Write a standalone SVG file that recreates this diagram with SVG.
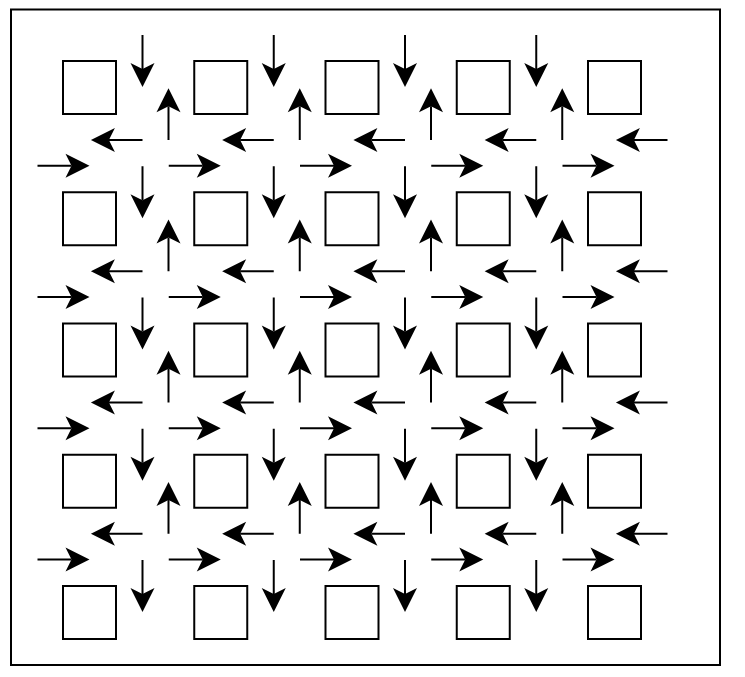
<svg xmlns="http://www.w3.org/2000/svg" width="745" height="677" viewBox="0 0 745 677">
<defs>
<style>
.frame{fill:#fff;stroke:#000;stroke-width:2}
.sq{fill:#fff;stroke:#000;stroke-width:2}
.ar{fill:none;stroke:#000;stroke-width:2;marker-end:url(#head)}
</style>
<marker id="head" markerUnits="userSpaceOnUse" viewBox="-6 -12 24 24" refX="0" refY="0" markerWidth="24" markerHeight="24" orient="auto" overflow="visible">
<path d="M18,0 L-6,-12 L0,0 L-6,12 Z" fill="#000" stroke="none"/>
</marker>
</defs>
<rect width="745" height="677" fill="#fff"/>
<rect id="frame" class="frame" x="11" y="9.5" width="709" height="655.5"/>
<g id="nodes">
<g id="n0-0"><rect class="sq" x="63" y="61" width="53" height="53"/></g>
<g id="n0-1"><rect class="sq" x="194.25" y="61" width="53" height="53"/></g>
<g id="n0-2"><rect class="sq" x="325.5" y="61" width="53" height="53"/></g>
<g id="n0-3"><rect class="sq" x="456.75" y="61" width="53" height="53"/></g>
<g id="n0-4"><rect class="sq" x="588" y="61" width="53" height="53"/></g>
<g id="n1-0"><rect class="sq" x="63" y="192.25" width="53" height="53"/></g>
<g id="n1-1"><rect class="sq" x="194.25" y="192.25" width="53" height="53"/></g>
<g id="n1-2"><rect class="sq" x="325.5" y="192.25" width="53" height="53"/></g>
<g id="n1-3"><rect class="sq" x="456.75" y="192.25" width="53" height="53"/></g>
<g id="n1-4"><rect class="sq" x="588" y="192.25" width="53" height="53"/></g>
<g id="n2-0"><rect class="sq" x="63" y="323.5" width="53" height="53"/></g>
<g id="n2-1"><rect class="sq" x="194.25" y="323.5" width="53" height="53"/></g>
<g id="n2-2"><rect class="sq" x="325.5" y="323.5" width="53" height="53"/></g>
<g id="n2-3"><rect class="sq" x="456.75" y="323.5" width="53" height="53"/></g>
<g id="n2-4"><rect class="sq" x="588" y="323.5" width="53" height="53"/></g>
<g id="n3-0"><rect class="sq" x="63" y="454.75" width="53" height="53"/></g>
<g id="n3-1"><rect class="sq" x="194.25" y="454.75" width="53" height="53"/></g>
<g id="n3-2"><rect class="sq" x="325.5" y="454.75" width="53" height="53"/></g>
<g id="n3-3"><rect class="sq" x="456.75" y="454.75" width="53" height="53"/></g>
<g id="n3-4"><rect class="sq" x="588" y="454.75" width="53" height="53"/></g>
<g id="n4-0"><rect class="sq" x="63" y="586" width="53" height="53"/></g>
<g id="n4-1"><rect class="sq" x="194.25" y="586" width="53" height="53"/></g>
<g id="n4-2"><rect class="sq" x="325.5" y="586" width="53" height="53"/></g>
<g id="n4-3"><rect class="sq" x="456.75" y="586" width="53" height="53"/></g>
<g id="n4-4"><rect class="sq" x="588" y="586" width="53" height="53"/></g>
</g>
<g id="connectors">
<!-- down arrows -->
<path class="ar" d="M142.5,35V69"/><path class="ar" d="M273.75,35V69"/><path class="ar" d="M405,35V69"/><path class="ar" d="M536.25,35V69"/>
<path class="ar" d="M142.5,166.25V200.25"/><path class="ar" d="M273.75,166.25V200.25"/><path class="ar" d="M405,166.25V200.25"/><path class="ar" d="M536.25,166.25V200.25"/>
<path class="ar" d="M142.5,297.5V331.5"/><path class="ar" d="M273.75,297.5V331.5"/><path class="ar" d="M405,297.5V331.5"/><path class="ar" d="M536.25,297.5V331.5"/>
<path class="ar" d="M142.5,428.75V462.75"/><path class="ar" d="M273.75,428.75V462.75"/><path class="ar" d="M405,428.75V462.75"/><path class="ar" d="M536.25,428.75V462.75"/>
<path class="ar" d="M142.5,560V594"/><path class="ar" d="M273.75,560V594"/><path class="ar" d="M405,560V594"/><path class="ar" d="M536.25,560V594"/>
<!-- up arrows -->
<path class="ar" d="M168.5,140V106.3"/><path class="ar" d="M299.75,140V106.3"/><path class="ar" d="M431,140V106.3"/><path class="ar" d="M562.25,140V106.3"/>
<path class="ar" d="M168.5,271.25V237.55"/><path class="ar" d="M299.75,271.25V237.55"/><path class="ar" d="M431,271.25V237.55"/><path class="ar" d="M562.25,271.25V237.55"/>
<path class="ar" d="M168.5,402.5V368.8"/><path class="ar" d="M299.75,402.5V368.8"/><path class="ar" d="M431,402.5V368.8"/><path class="ar" d="M562.25,402.5V368.8"/>
<path class="ar" d="M168.5,533.75V500.05"/><path class="ar" d="M299.75,533.75V500.05"/><path class="ar" d="M431,533.75V500.05"/><path class="ar" d="M562.25,533.75V500.05"/>
<!-- left arrows -->
<path class="ar" d="M142.5,140H108.9"/><path class="ar" d="M273.75,140H240.15"/><path class="ar" d="M405,140H371.4"/><path class="ar" d="M536.25,140H502.65"/><path class="ar" d="M667.5,140H633.9"/>
<path class="ar" d="M142.5,271.25H108.9"/><path class="ar" d="M273.75,271.25H240.15"/><path class="ar" d="M405,271.25H371.4"/><path class="ar" d="M536.25,271.25H502.65"/><path class="ar" d="M667.5,271.25H633.9"/>
<path class="ar" d="M142.5,402.5H108.9"/><path class="ar" d="M273.75,402.5H240.15"/><path class="ar" d="M405,402.5H371.4"/><path class="ar" d="M536.25,402.5H502.65"/><path class="ar" d="M667.5,402.5H633.9"/>
<path class="ar" d="M142.5,533.75H108.9"/><path class="ar" d="M273.75,533.75H240.15"/><path class="ar" d="M405,533.75H371.4"/><path class="ar" d="M536.25,533.75H502.65"/><path class="ar" d="M667.5,533.75H633.9"/>
<!-- right arrows -->
<path class="ar" d="M37.5,165.75H71.5"/><path class="ar" d="M168.75,165.75H202.75"/><path class="ar" d="M300,165.75H334"/><path class="ar" d="M431.25,165.75H465.25"/><path class="ar" d="M562.5,165.75H596.5"/>
<path class="ar" d="M37.5,297H71.5"/><path class="ar" d="M168.75,297H202.75"/><path class="ar" d="M300,297H334"/><path class="ar" d="M431.25,297H465.25"/><path class="ar" d="M562.5,297H596.5"/>
<path class="ar" d="M37.5,428.25H71.5"/><path class="ar" d="M168.75,428.25H202.75"/><path class="ar" d="M300,428.25H334"/><path class="ar" d="M431.25,428.25H465.25"/><path class="ar" d="M562.5,428.25H596.5"/>
<path class="ar" d="M37.5,559.5H71.5"/><path class="ar" d="M168.75,559.5H202.75"/><path class="ar" d="M300,559.5H334"/><path class="ar" d="M431.25,559.5H465.25"/><path class="ar" d="M562.5,559.5H596.5"/>
</g>
</svg>
